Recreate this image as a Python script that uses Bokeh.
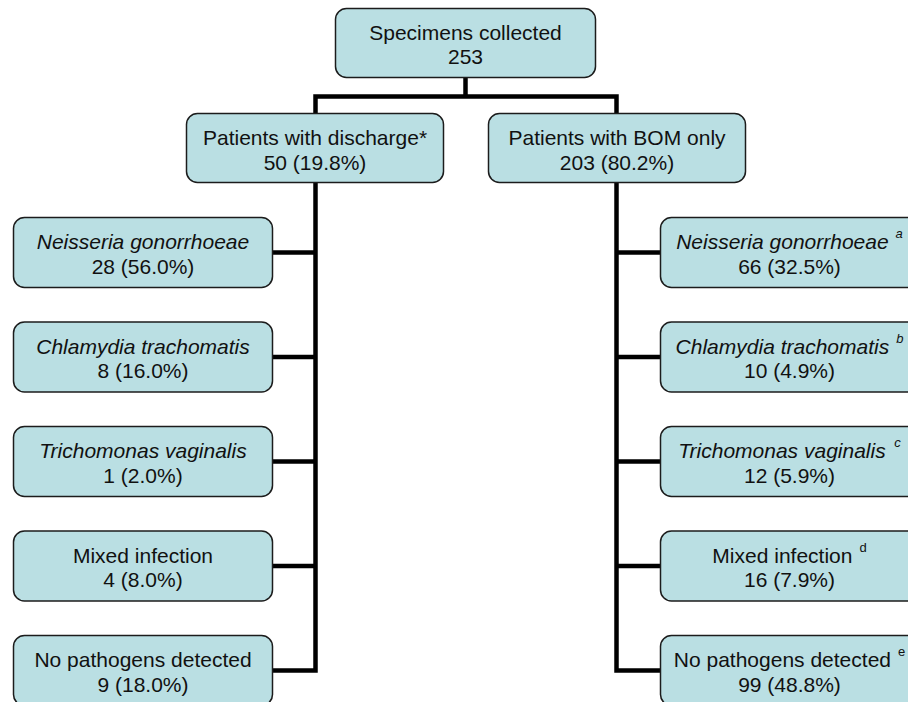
from bokeh.plotting import figure
from bokeh.models import Range1d
from bokeh.core.properties import value
from bokeh.embed import file_html
from bokeh.resources import INLINE

# ---------------- data ----------------
root_label = "Specimens collected"
root_n = 253
group_labels = ["Patients with discharge*", "Patients with BOM only"]
group_n = [50, 203]
group_pct = [19.8, 80.2]
outcome_labels = ["Neisseria gonorrhoeae", "Chlamydia trachomatis",
                  "Trichomonas vaginalis", "Mixed infection",
                  "No pathogens detected"]
outcome_italic = [True, True, True, False, False]
left_n = [28, 8, 1, 4, 9]
left_pct = [56.0, 16.0, 2.0, 8.0, 18.0]
right_n = [66, 10, 12, 16, 99]
right_pct = [32.5, 4.9, 5.9, 7.9, 48.8]
right_notes = ["a", "b", "c", "d", "e"]

# ---------------- layout ----------------
FONT = "Liberation Sans"
FS = 21
SUP_FS = 13
FILL = "#BADFE3"
EDGE = "#1c1c1c"
TXT = "#111111"
L1, L2 = 24, 48.5          # baseline offsets from box top

root_box = (335, 595, 8, 77)
group_boxes = [(186, 443, 113, 182), (488, 745, 113, 182)]
col_x = [315, 616]
bus_y = 96
out_left = (13, 272)
out_right = (660, 918)
out_top0, out_step, out_h = 217, 104.5, 70

# Arial / Liberation Sans advance widths (per 1000 em)
AW = {' ': 278, 'N': 722, 'C': 722, 'T': 611, 'M': 833, 'a': 556, 'b': 556,
      'c': 500, 'd': 556, 'e': 556, 'f': 278, 'g': 556, 'h': 556, 'i': 222,
      'l': 222, 'm': 833, 'n': 556, 'o': 556, 'p': 556, 'r': 333, 's': 500,
      't': 278, 'v': 500, 'x': 500, 'y': 500}


def text_w(s, size):
    return sum(AW.get(ch, 556) for ch in s) * size / 1000.0


def fmt(n, pct):
    return f"{n} ({pct:.1f}%)"


p = figure(width=908, height=702, output_backend="svg", toolbar_location=None,
           x_range=Range1d(0, 908), y_range=Range1d(702, 0),
           x_axis_type=None, y_axis_type=None, min_border=0)
p.grid.visible = False
p.outline_line_color = None
p.background_fill_color = "white"
p.border_fill_color = "white"

# ---------------- connectors ----------------
tops = [out_top0 + i * out_step for i in range(len(outcome_labels))]
mids = [t + out_h / 2 for t in tops]
lx, rx = col_x
main_x = [out_left[1], lx, lx, rx, rx, out_right[0]]
main_y = [mids[-1], mids[-1], bus_y, bus_y, mids[-1], mids[-1]]
p.line(main_x, main_y, line_width=4.5, color="black", line_join="miter")
root_cx = (root_box[0] + root_box[1]) / 2
p.line([root_cx, root_cx], [root_box[3] - 5, bus_y], line_width=4.5, color="black")
hx, hy = [], []
for m in mids[:-1]:
    hx += [[out_left[1], lx], [rx, out_right[0]]]
    hy += [[m, m], [m, m]]
p.multi_line(hx, hy, line_width=4.5, color="black")

# ---------------- boxes ----------------
L, R, T, B = [], [], [], []
for b in [root_box] + group_boxes:
    L.append(b[0]); R.append(b[1]); T.append(b[2]); B.append(b[3])
for t in tops:
    for (a, c) in (out_left, out_right):
        L.append(a); R.append(c); T.append(t); B.append(t + out_h)
p.quad(left=L, right=R, top=T, bottom=B, fill_color=FILL,
       line_color=EDGE, line_width=1.5, border_radius=11)

# ---------------- texts ----------------
groups = {}   # (italic, size, align) -> lists


def add(x, y, s, italic=False, size=FS, align="center"):
    g = groups.setdefault((italic, size, align), ([], [], []))
    g[0].append(x); g[1].append(y); g[2].append(s)


add(root_cx, root_box[2] + L1, root_label)
add(root_cx, root_box[2] + L2, str(root_n))
for b, lab, n, pc in zip(group_boxes, group_labels, group_n, group_pct):
    cx = (b[0] + b[1]) / 2
    add(cx, b[2] + L1, lab)
    add(cx, b[2] + L2, fmt(n, pc))

lcx = (out_left[0] + out_left[1]) / 2
rcx = (out_right[0] + out_right[1]) / 2
gap = 7
for i, t in enumerate(tops):
    lab = outcome_labels[i]
    ital = outcome_italic[i]
    add(lcx, t + L1, lab, italic=ital)
    add(lcx, t + L2, fmt(left_n[i], left_pct[i]))
    w = text_w(lab, FS)
    ws = text_w(right_notes[i], SUP_FS)
    x0 = rcx - (w + gap + ws) / 2
    add(x0, t + L1, lab, italic=ital, align="left")
    add(x0 + w + gap, t + L1 - 8, right_notes[i], italic=ital, size=SUP_FS, align="left")
    add(rcx, t + L2, fmt(right_n[i], right_pct[i]))

for (ital, size, align), (xs, ys, ss) in groups.items():
    p.text(x=xs, y=ys, text=ss, text_align=align, text_baseline="alphabetic",
           text_font=value(FONT), text_font_size=f"{size}px",
           text_font_style="italic" if ital else "normal", text_color=TXT)

open("out.html", "w").write(file_html(p, INLINE))
